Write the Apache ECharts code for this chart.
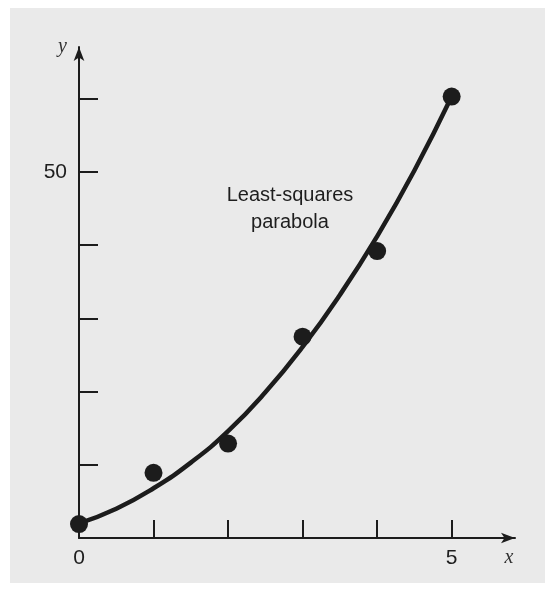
<!DOCTYPE html>
<html>
<head>
<meta charset="utf-8">
<script src="https://cdn.jsdelivr.net/npm/echarts@6/dist/echarts.min.js"></script>
<style>html,body{margin:0;padding:0;background:#fff;}#c{width:545px;height:591px;}</style>
</head>
<body>
<div id="c"></div>
<script>
// Observed data points (x, y)
const pointX = [0, 1, 2, 3, 4, 5];
const pointY = [1.9, 8.9, 12.9, 27.5, 39.2, 60.3];
// Least-squares parabola at half steps
const curveX = [0, 0.5, 1, 1.5, 2, 2.5, 3, 3.5, 4, 4.5, 5];
const curveY = [2.0, 4.0, 6.8, 10.3, 14.6, 19.9, 26.1, 33.2, 41.2, 50.2, 60.3];
// Tick positions and labels
const xTicks = [1, 2, 3, 4, 5];
const xLabels = [0, 5];
const yTicks = [10, 20, 30, 40, 50, 60];
const yLabels = [50];
const annotation = 'Least-squares\nparabola';

const chart = echarts.init(document.getElementById('c'));
const ink = '#1c1c1c';
chart.setOption({
  animation: false,
  backgroundColor: '#ffffff',
  graphic: [
    { type: 'rect', z: -10, shape: { x: 10, y: 8, width: 535, height: 575 }, style: { fill: '#eaeaea' } },
    { type: 'text', x: 290, y: 182, z: 10,
      style: { text: annotation, fill: '#1e1e1e', font: '20px "Liberation Sans", Arial, sans-serif', align: 'center', verticalAlign: 'top', lineHeight: 27 } }
  ],
  grid: { left: 79, right: 30, top: 47, bottom: 53 },
  xAxis: {
    type: 'value', min: 0, max: 5.85, interval: 1,
    splitLine: { show: false },
    axisLine: { lineStyle: { color: ink, width: 2 }, symbol: ['none', 'arrow'], symbolSize: [8, 14] },
    axisTick: { inside: true, length: 18, lineStyle: { color: ink, width: 2 }, customValues: xTicks },
    axisLabel: { customValues: xLabels, color: '#1e1e1e', fontSize: 21, margin: 10, fontFamily: '"Liberation Sans", Arial, sans-serif' },
    name: 'x', nameLocation: 'end', nameGap: -6,
    nameTextStyle: { fontFamily: '"Liberation Serif", "DejaVu Serif", serif', fontStyle: 'italic', fontSize: 20, color: '#333', align: 'center', verticalAlign: 'top', padding: [10, 0, 0, 0] }
  },
  yAxis: {
    type: 'value', min: 0, max: 67.07, interval: 10,
    splitLine: { show: false },
    axisLine: { lineStyle: { color: ink, width: 2 }, symbol: ['none', 'arrow'], symbolSize: [8, 14] },
    axisTick: { inside: true, length: 19, lineStyle: { color: ink, width: 2 }, customValues: yTicks },
    axisLabel: { customValues: yLabels, color: '#1e1e1e', fontSize: 21, margin: 12, fontFamily: '"Liberation Sans", Arial, sans-serif' },
    name: 'y', nameLocation: 'end', nameGap: 0,
    nameTextStyle: { fontFamily: '"Liberation Serif", "DejaVu Serif", serif', fontStyle: 'italic', fontSize: 20, color: '#333', align: 'right', verticalAlign: 'middle', padding: [0, 12, 0, 0] }
  },
  series: [
    { type: 'line', data: curveX.map((x, i) => [x, curveY[i]]), smooth: true, showSymbol: false,
      lineStyle: { color: ink, width: 4.5 }, z: 2 },
    { type: 'scatter', data: pointX.map((x, i) => [x, pointY[i]]), symbolSize: 18,
      itemStyle: { color: ink, opacity: 1 }, z: 3 }
  ]
});
</script>
</body>
</html>
